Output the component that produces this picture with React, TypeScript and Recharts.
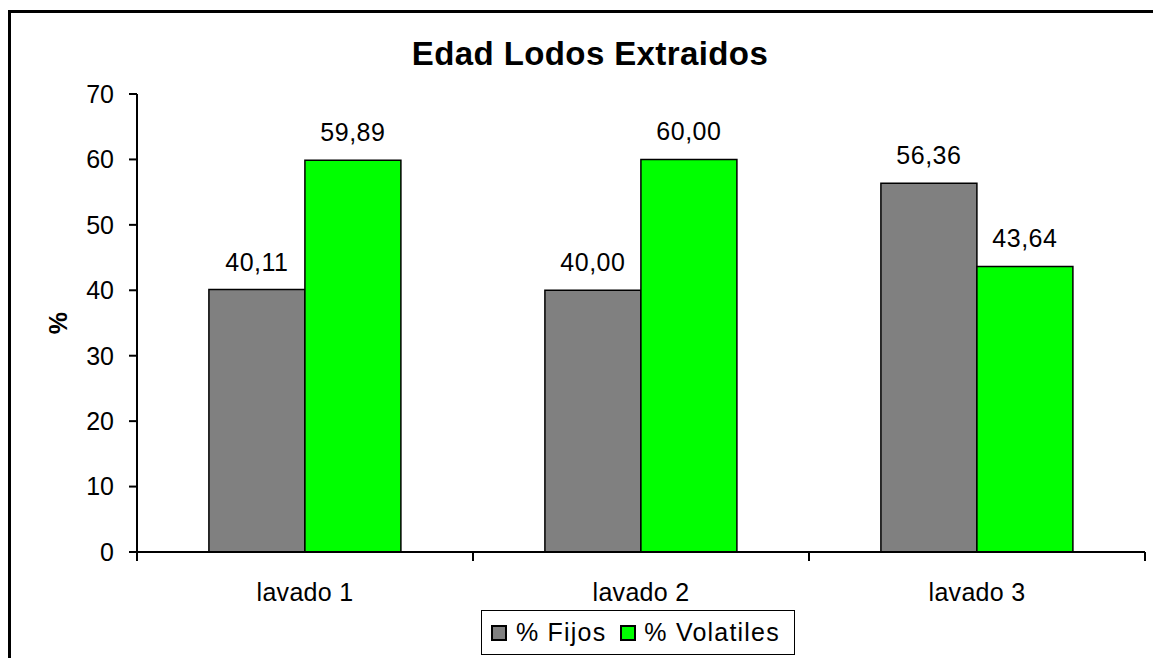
import React from 'react';
import { BarChart, Bar, XAxis, YAxis, Legend, LabelList } from 'recharts';

const categories = ['lavado 1', 'lavado 2', 'lavado 3'];
const fijos = [40.11, 40.0, 56.36];
const volatiles = [59.89, 60.0, 43.64];
const yTicks = [0, 10, 20, 30, 40, 50, 60, 70];

const data = categories.map((c, i) => ({ name: c, fijos: fijos[i], volatiles: volatiles[i] }));

const FONT = '"Liberation Sans", Arial, sans-serif';
const fmt = (v: any) => Number(v).toFixed(2).replace('.', ',');
const TICK_SIZE = 9;
const TICK_MARGIN = 22;

const YLabel = (props: any) => {
  const vb = props.viewBox || {};
  const x = vb.x - 19;
  const y = vb.y + vb.height / 2;
  return (
    <text x={x} y={y} transform={`rotate(-90, ${x}, ${y})`} textAnchor="middle" dominantBaseline="central"
      fontFamily={FONT} fontSize={25} fontWeight="bold" fill="#000">%</text>
  );
};

const CatTick = (props: any) => {
  const { x, y, payload, index, visibleTicksCount } = props;
  const half = payload && payload.offset ? payload.offset : 0;
  const axisY = y - TICK_SIZE - TICK_MARGIN;
  const isLast = index === (visibleTicksCount ?? categories.length) - 1;
  return (
    <g>
      <line x1={x - half} x2={x - half} y1={axisY} y2={axisY + TICK_SIZE} stroke="#000" strokeWidth={2} />
      {isLast && <line x1={x + half} x2={x + half} y1={axisY} y2={axisY + TICK_SIZE} stroke="#000" strokeWidth={2} />}
      <text x={x} y={y} dy="0.71em" textAnchor="middle" fontFamily={FONT} fontSize={25} letterSpacing={0.3} fill="#000">{payload.value}</text>
    </g>
  );
};

const LegendBox = () => (
  <div style={{ border: '1.5px solid #000', width: 314, height: 45, boxSizing: 'border-box', display: 'flex', alignItems: 'center', paddingLeft: 9, fontFamily: FONT, fontSize: 25, letterSpacing: 1.2, background: '#fff' }}>
    <span style={{ display: 'inline-block', width: 16, height: 16, boxSizing: 'border-box', background: '#808080', border: '2px solid #000', marginRight: 9 }} />
    <span style={{ marginRight: 14 }}>% Fijos</span>
    <span style={{ display: 'inline-block', width: 16, height: 16, boxSizing: 'border-box', background: '#00ff00', border: '2px solid #000', marginRight: 8 }} />
    <span>% Volatiles</span>
  </div>
);

export default function App() {
  return (
    <div style={{ position: 'absolute', left: 0, top: 0, width: 1153, height: 658, overflow: 'hidden', background: '#fff' }}>
      <div style={{ position: 'absolute', left: 8, top: 10, width: 1200, height: 700, borderLeft: '3px solid #000', borderTop: '3px solid #000' }} />
      <div style={{ position: 'absolute', left: 9, width: 1162, top: 35, textAlign: 'center', fontFamily: FONT, fontWeight: 'bold', fontSize: 33, letterSpacing: 0.4 }}>Edad Lodos Extraidos</div>
      <div style={{ position: 'absolute', left: 0, top: 0 }}>
        <BarChart width={1153} height={658} data={data} margin={{ top: 94, right: 8, left: 77, bottom: 0 }} barCategoryGap="21.4%" barGap={0}>
          <XAxis dataKey="name" height={106} axisLine={{ stroke: '#000', strokeWidth: 2 }} tickLine={false}
            tickSize={TICK_SIZE} tickMargin={TICK_MARGIN} tick={<CatTick />} interval={0} />
          <YAxis width={60} domain={[0, 70]} ticks={yTicks} interval={0} axisLine={{ stroke: '#000', strokeWidth: 2 }}
            tickLine={{ stroke: '#000', strokeWidth: 2 }} tickSize={8} tickMargin={15}
            tick={{ fill: '#000', fontSize: 25, fontFamily: FONT }} label={<YLabel />} />
          <Legend layout="horizontal" verticalAlign="middle" align="center" content={<LegendBox />}
            wrapperStyle={{ position: 'absolute', left: 481, top: 610, width: 314, height: 45 }} />
          <Bar dataKey="fijos" name="% Fijos" fill="#808080" stroke="#000" strokeWidth={1.5} isAnimationActive={false}>
            <LabelList dataKey="fijos" position="top" offset={19} formatter={fmt} fill="#000" fontSize={25} letterSpacing={0.5} fontFamily={FONT} />
          </Bar>
          <Bar dataKey="volatiles" name="% Volatiles" fill="#00ff00" stroke="#000" strokeWidth={1.5} isAnimationActive={false}>
            <LabelList dataKey="volatiles" position="top" offset={19} formatter={fmt} fill="#000" fontSize={25} letterSpacing={0.5} fontFamily={FONT} />
          </Bar>
        </BarChart>
      </div>
    </div>
  );
}
